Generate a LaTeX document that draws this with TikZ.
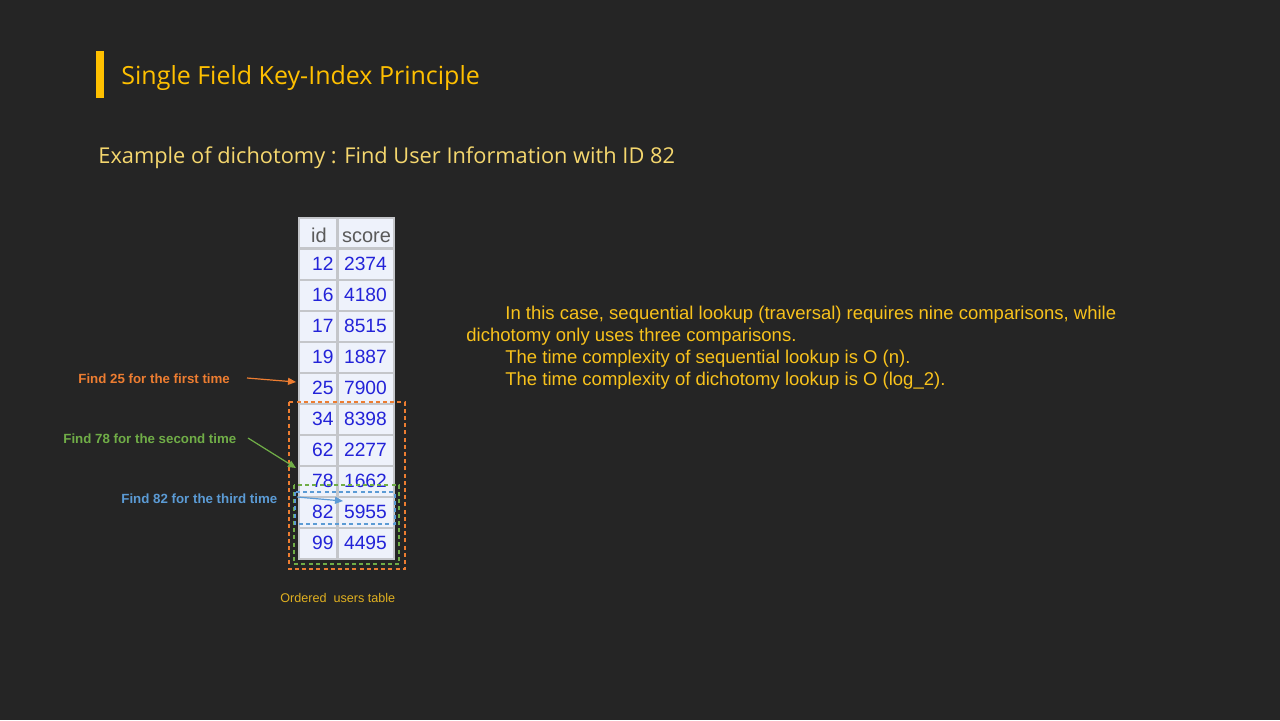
\documentclass[tikz,border=0pt]{standalone}
\usepackage{fontspec}
\setmainfont{Liberation Sans}
\newfontfamily\titlefont{Open Sans}
\usetikzlibrary{arrows.meta}
\definecolor{bg}{HTML}{252525}
\definecolor{gold}{HTML}{FFC000}
\definecolor{paleyellow}{HTML}{F5D76E}
\definecolor{bodygold}{HTML}{F8C21C}
\definecolor{capgold}{HTML}{E0B020}
\definecolor{orangec}{HTML}{ED7D31}
\definecolor{greenc}{HTML}{70AD47}
\definecolor{bluec}{HTML}{5B9BD5}
\definecolor{cellfill}{HTML}{EEF2FB}
\definecolor{gridgray}{HTML}{C4C6CA}
\definecolor{numblue}{HTML}{2323D8}
\definecolor{headgray}{HTML}{5A5A5A}
\tikzset{
  cellbox/.style={draw=gridgray, line width=1pt, fill=cellfill, inner sep=0pt},
  numtxt/.style={text=numblue, font=\fontsize{9.6}{11}\selectfont, inner sep=0pt},
  headtxt/.style={text=headgray, font=\fontsize{10}{12}\selectfont, inner sep=0pt, anchor=base},
  findlbl/.style={anchor=base west, inner sep=0pt, font=\bfseries\fontsize{6.65}{8}\selectfont},
  bodyline/.style={anchor=base west, inner sep=0pt, text=bodygold, font=\fontsize{9.25}{11}\selectfont},
  findarrow/.style={line width=0.6pt, -{Triangle[length=4pt,width=3.5pt]}},
  dashbox/.style={line width=0.6pt, dash pattern=on 2pt off 1.6pt}
}
\begin{document}
\begin{tikzpicture}[x=0.5pt,y=-0.5pt]
\useasboundingbox (0,0) rectangle (1280,720);
\fill[bg] (0,0) rectangle (1280,720);
% title
\fill[gold] (96,51) rectangle (104,98);
\node[anchor=base west, inner sep=0pt, text=gold, font=\titlefont\fontsize{12.5}{14}\selectfont] (title) at (121,84) {Single Field Key-Index Principle};
\node[anchor=base west, inner sep=0pt, text=paleyellow, font=\titlefont\fontsize{10.9}{13}\selectfont] (subtitle) at (98,163) {Example of dichotomy : Find User Information with ID 82};
% table
\fill[gridgray] (299,218) rectangle (394,560);
\node[cellbox, minimum width=19pt, minimum height=15pt] (h1) at (318,233) {};
\node[headtxt] (ht1) at (319,242) {id};
\node[cellbox, minimum width=28pt, minimum height=15pt] (h2) at (365.5,233) {};
\node[headtxt] (ht2) at (366.5,242) {score};
\foreach \i/\a/\b in {0/12/2374,1/16/4180,2/17/8515,3/19/1887,4/25/7900,5/34/8398,6/62/2277,7/78/1662,8/82/5955,9/99/4495}{
  \pgfmathsetmacro{\yc}{264+31*\i}
  \node[cellbox, minimum width=19pt, minimum height=15.5pt] (id\i) at (318,\yc) {};
  \node[cellbox, minimum width=28pt, minimum height=15.5pt] (sc\i) at (365.5,\yc) {};
  \node[numtxt, anchor=east] (idt\i) at ([xshift=-2pt]id\i.east) {\a};
  \node[numtxt] (sct\i) at (sc\i) {\b};
}
% dashed boxes
\draw[dashbox, orangec] (289,402) rectangle (405,569);
\draw[dashbox, greenc] (294,485) rectangle (399,564);
\draw[dashbox, bluec] (295,492) rectangle (395,524);
% labels and arrows
\node[findlbl, text=orangec] (f1) at (78,383) {Find 25 for the first time};
\node[findlbl, text=greenc] (f2) at (63,443) {Find 78 for the second time};
\node[findlbl, text=bluec] (f3) at (121,503) {Find 82 for the third time};
\coordinate (a1s) at (247,378);
\coordinate (a1e) at (296,382);
\coordinate (a2s) at (248,438);
\coordinate (a2e) at (296,468);
\coordinate (a3s) at (297,497);
\coordinate (a3e) at (343,501);
\draw[findarrow, orangec] (a1s) -- (a1e);
\draw[findarrow, greenc] (a2s) -- (a2e);
\draw[findarrow, bluec] (a3s) -- (a3e);
\node[anchor=base west, inner sep=0pt, text=capgold, font=\fontsize{6.3}{8}\selectfont] (cap) at (280,602) {Ordered\ \ users table};
% body text
\node[bodyline] (l1) at (505,319) {In this case, sequential lookup (traversal) requires nine comparisons, while};
\node[bodyline] (l2) at (466,341) {dichotomy only uses three comparisons.};
\node[bodyline] (l3) at (505,363) {The time complexity of sequential lookup is O (n).};
\node[bodyline] (l4) at (505,385) {The time complexity of dichotomy lookup is O (log\_2).};
\end{tikzpicture}
\end{document}
